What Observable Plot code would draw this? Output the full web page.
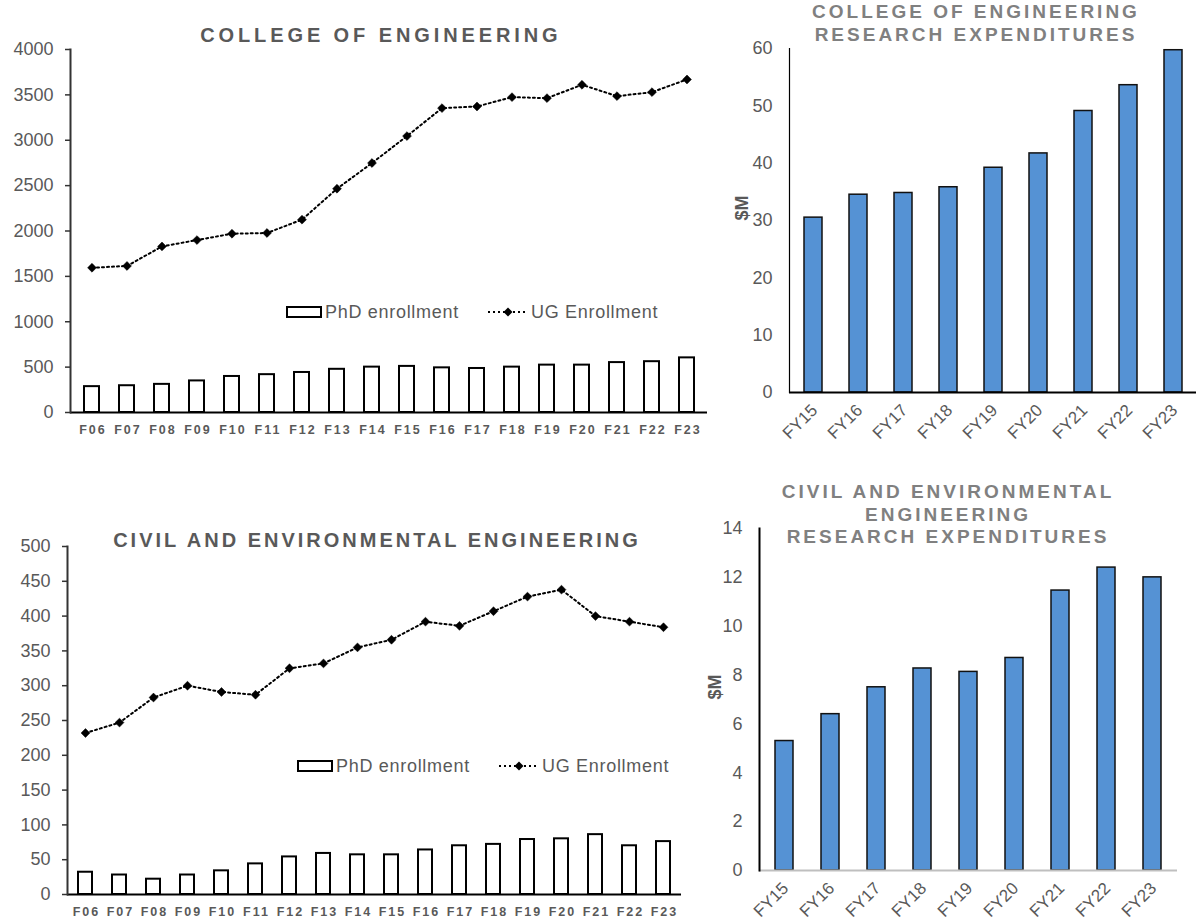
<!DOCTYPE html>
<html><head><meta charset="utf-8">
<script src="https://cdn.jsdelivr.net/npm/d3@7"></script>
<script src="https://cdn.jsdelivr.net/npm/@observablehq/plot@0.6"></script>
<style>
body{margin:0;background:#fff;font-family:"Liberation Sans",Arial,sans-serif;}
#root{position:relative;width:1196px;height:924px;overflow:hidden;background:#fff;}
.panel{position:absolute;}
.ttl{position:absolute;text-align:center;font-weight:bold;white-space:nowrap;}
.lg{position:absolute;font-size:18px;letter-spacing:0.7px;color:#595959;white-space:nowrap;line-height:20px;}
</style></head><body><div id="root"></div>
<script>
// ---- data ----
const fallTerms = ["F06","F07","F08","F09","F10","F11","F12","F13","F14","F15","F16","F17","F18","F19","F20","F21","F22","F23"];
const coePhd = [285,295,310,348,397,417,441,476,500,508,492,485,500,522,522,550,560,602];
const coeUg = [1595,1615,1830,1900,1970,1978,2125,2466,2749,3046,3354,3372,3475,3464,3611,3486,3530,3670];
const ceePhd = [32,28,22,28,34,44,54,59,57,57,64,70,72,79,80,86,70,76];
const ceeUg = [232,247,283,300,291,287,325,332,355,366,392,386,407,428,438,400,392,384];
const fiscalYears = ["FY15","FY16","FY17","FY18","FY19","FY20","FY21","FY22","FY23"];
const coeResearch = [30.5,34.5,34.8,35.8,39.2,41.7,49.1,53.6,59.7];
const ceeResearch = [5.3,6.4,7.5,8.27,8.13,8.7,11.46,12.4,12.0];
const coeTicks = [0,500,1000,1500,2000,2500,3000,3500,4000];
const ceeTicks = [0,50,100,150,200,250,300,350,400,450,500];
const coeResTicks = [0,10,20,30,40,50,60];
const ceeResTicks = [0,2,4,6,8,10,12,14];
const seriesNames = ["PhD enrollment","UG Enrollment"];

const FONT = '"Liberation Sans", Arial, sans-serif';
const root = document.getElementById("root");

function place(el, left, top) {
  const d = document.createElement("div");
  d.className = "panel";
  d.style.left = left + "px";
  d.style.top = top + "px";
  d.appendChild(el);
  root.appendChild(d);
}

function enrollment(o) {
  const rows = o.terms.map((t, i) => ({term: t, phd: o.phd[i], ug: o.ug[i]}));
  const svg = Plot.plot({
    width: o.width, height: o.height,
    marginTop: o.mt, marginBottom: o.mb, marginLeft: o.ml, marginRight: o.mr,
    style: {fontFamily: FONT, background: "transparent", overflow: "visible"},
    x: {domain: o.terms, paddingInner: 0.58, paddingOuter: 0.29, label: null},
    y: {domain: [0, o.yMax], label: null},
    marks: [
      Plot.barY(rows, {x: "term", y: "phd", fill: "white", stroke: "black", strokeWidth: 2}),
      Plot.ruleY([0], {stroke: "black", strokeWidth: 2}),
      Plot.frame({anchor: "left", stroke: "#333", strokeWidth: 2}),
      Plot.line(rows, {x: "term", y: "ug", stroke: "black", strokeWidth: 2, strokeDasharray: "2,3"}),
      Plot.dot(rows, {x: "term", y: "ug", symbol: "diamond2", r: 4, fill: "black", stroke: "black", strokeWidth: 0.5}),
      Plot.axisY({ticks: o.ticks, tickSize: 5, tickPadding: 12, fontSize: 18, stroke: "#333", strokeWidth: 1.5, fill: "#595959", tickFormat: d => String(d), label: null}),
      Plot.axisX({tickSize: 0, tickPadding: 13, fontSize: 12.5, fontWeight: "bold", fill: "#595959", dx: 1, label: null})
    ]
  });
  svg.querySelectorAll('[aria-label="x-axis tick label"]').forEach(g => g.style.letterSpacing = "2px");
  return svg;
}

function research(o) {
  const rows = o.years.map((y, i) => ({year: y, v: o.values[i]}));
  return Plot.plot({
    width: o.width, height: o.height,
    marginTop: o.mt, marginBottom: o.mb, marginLeft: o.ml, marginRight: o.mr,
    style: {fontFamily: FONT, background: "transparent", overflow: "visible"},
    x: {domain: o.years, paddingInner: 0.6, paddingOuter: 0.3, label: null},
    y: {domain: [0, o.yMax], label: null},
    marks: [
      Plot.barY(rows, {x: "year", y: "v", fill: "#5592d4", stroke: "#111", strokeWidth: 1.5}),
      Plot.ruleY([0], {stroke: o.baseColor, strokeWidth: 2}),
      Plot.frame({anchor: "left", stroke: "black", strokeWidth: o.axisW}),
      Plot.axisY({ticks: o.ticks, tickSize: 0, tickPadding: 17, fontSize: 18, fill: "#595959", tickFormat: d => String(d), label: null}),
      Plot.axisX({tickSize: 0, tickPadding: 15, tickRotate: -45, fontSize: 17, fill: "#595959", dx: 1, label: null}),
      Plot.text(["$M"], {text: d => d, frameAnchor: "left", rotate: -90, dx: o.labelDx, fontSize: 18, fontWeight: "bold", fill: "#595959"})
    ]
  });
}

place(enrollment({terms: fallTerms, phd: coePhd, ug: coeUg, ticks: coeTicks, yMax: 4000,
  width: 715, height: 450, mt: 49, mb: 38, ml: 70, mr: 8}), 0, 0);
place(research({years: fiscalYears, values: coeResearch, ticks: coeResTicks, yMax: 60,
  width: 496, height: 450, mt: 48, mb: 58, ml: 89, mr: 0, baseColor: "black", axisW: 1.2, labelDx: -47}), 700, 0);
place(enrollment({terms: fallTerms, phd: ceePhd, ug: ceeUg, ticks: ceeTicks, yMax: 500,
  width: 700, height: 454, mt: 76, mb: 30, ml: 67, mr: 19}), 0, 470);
place(research({years: fiscalYears, values: ceeResearch, ticks: ceeResTicks, yMax: 14,
  width: 496, height: 454, mt: 58, mb: 54, ml: 59, mr: 19, baseColor: "#bfbfbf", axisW: 2, labelDx: -44}), 700, 470);

function title(lines, left, width, top, lh, size, ls, color) {
  const d = document.createElement("div");
  d.className = "ttl";
  Object.assign(d.style, {left: left + "px", width: width + "px", top: top + "px", lineHeight: lh + "px",
    fontSize: size + "px", letterSpacing: ls + "px", color, paddingLeft: ls + "px"});
  d.innerHTML = lines.join("<br>");
  root.appendChild(d);
}
title(["COLLEGE OF ENGINEERING"], 0, 754, 23, 24, 20, 3.9, "#595959");
title(["COLLEGE OF ENGINEERING", "RESEARCH EXPENDITURES"], 773, 400, 0, 23, 19, 3, "#808080");
title(["CIVIL AND ENVIRONMENTAL ENGINEERING"], 0, 748, 528, 24, 20, 3, "#595959");
title(["CIVIL AND ENVIRONMENTAL", "ENGINEERING", "RESEARCH EXPENDITURES"], 745, 400, 481, 22.7, 19, 3, "#808080");

function legend(x0, yc) {
  const sw = document.createElementNS("http://www.w3.org/2000/svg", "svg");
  sw.setAttribute("width", 250); sw.setAttribute("height", 20);
  sw.style.position = "absolute"; sw.style.left = x0 + "px"; sw.style.top = (yc - 10) + "px"; sw.style.overflow = "visible";
  sw.innerHTML =
    '<rect x="1" y="5" width="34" height="10" fill="white" stroke="black" stroke-width="2"/>' +
    '<line x1="202" x2="241" y1="10" y2="10" stroke="black" stroke-width="2" stroke-dasharray="2,3"/>' +
    '<path d="M222,5.5L226.5,10L222,14.5L217.5,10Z" fill="black"/>';
  root.appendChild(sw);
  const t1 = document.createElement("div"); t1.className = "lg";
  t1.style.left = (x0 + 39) + "px"; t1.style.top = (yc - 10) + "px"; t1.textContent = seriesNames[0];
  const t2 = document.createElement("div"); t2.className = "lg";
  t2.style.left = (x0 + 245) + "px"; t2.style.top = (yc - 10) + "px"; t2.textContent = seriesNames[1];
  root.appendChild(t1); root.appendChild(t2);
}
legend(286, 311.7);
legend(297, 766);
</script></body></html>
